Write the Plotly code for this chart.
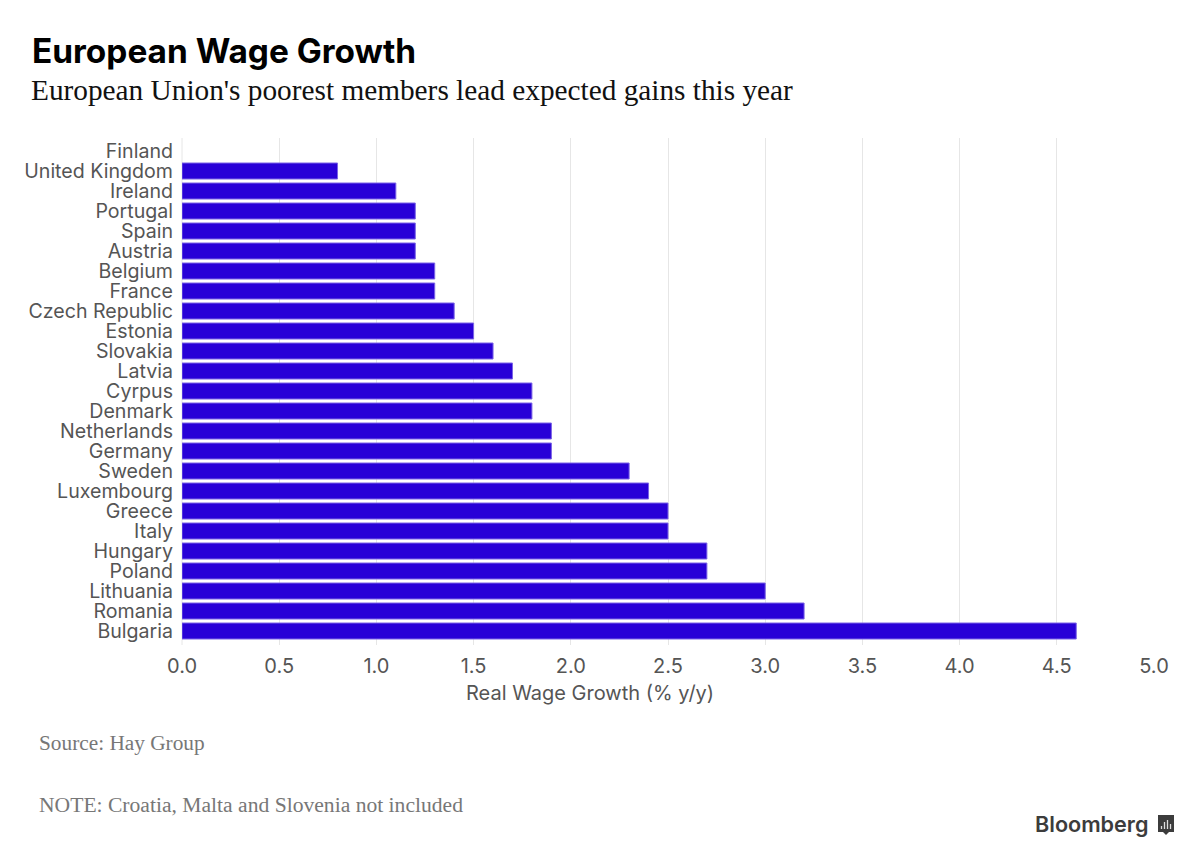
import plotly.graph_objects as go

countries = ["Finland","United Kingdom","Ireland","Portugal","Spain","Austria","Belgium","France",
             "Czech Republic","Estonia","Slovakia","Latvia","Cyrpus","Denmark","Netherlands","Germany",
             "Sweden","Luxembourg","Greece","Italy","Hungary","Poland","Lithuania","Romania","Bulgaria"]
wage_growth = [None,0.8,1.1,1.2,1.2,1.2,1.3,1.3,1.4,1.5,1.6,1.7,1.8,1.8,1.9,1.9,2.3,2.4,2.5,2.5,2.7,2.7,3.0,3.2,4.6]
x_ticks = [0,0.5,1,1.5,2,2.5,3,3.5,4,4.5,5]
x_tick_labels = ["0.0","0.5","1.0","1.5","2.0","2.5","3.0","3.5","4.0","4.5","5.0"]

OFF = 8  # page body margin
W, H = 1200 - OFF, 863 - OFF
L, R, T, B = 182, 1154, 138, 645  # plot area, in window pixels
SANS = "Inter, Liberation Sans, sans-serif"
SERIF = "Liberation Serif, serif"
GREY = "#555555"

fig = go.Figure(go.Bar(
    x=wage_growth, y=countries, orientation="h", width=0.8,
    marker=dict(color="#2800d7", line=dict(color="#7a63e6", width=1)),
))

def px_x(p): return (p - L) / (R - L)
def px_y(p): return (B - p) / (B - T)

def text(x, y, s, size, color, family, anchor="left", weight=400):
    fig.add_annotation(xref="paper", yref="paper", x=px_x(x), y=px_y(y), text=s, showarrow=False,
                       xanchor=anchor, yanchor="middle", borderpad=0, borderwidth=0,
                       font=dict(size=size, color=color, family=family, weight=weight))

text(32, 51.5, "European Wage Growth", 33.4, "#000000", SANS, weight=700)
text(31, 90, "European Union's poorest members lead expected gains this year", 29.3, "#111111", SERIF)
text(39, 743, "Source: Hay Group", 21.3, "#777777", SERIF)
text(39, 805, "NOTE: Croatia, Malta and Slovenia not included", 21.6, "#777777", SERIF)
text(1035, 824, "Bloomberg", 21.6, "#3c3c3c", SANS, weight=600)
text(589.5, 693, "Real Wage Growth (% y/y)", 20, GREY, SANS, anchor="center")

# Logo badge
fig.add_shape(type="rect", xref="paper", yref="paper", x0=px_x(1158), x1=px_x(1174), y0=px_y(832), y1=px_y(815),
              fillcolor="#3c3c3c", line=dict(width=0))
fig.add_shape(type="path", xref="paper", yref="paper",
              path=f"M {px_x(1163)} {px_y(832)} L {px_x(1169)} {px_y(832)} L {px_x(1166)} {px_y(835)} Z",
              fillcolor="#3c3c3c", line=dict(width=0))
for bx, top in zip([1161.5, 1164.5, 1167.5, 1170.5], [826, 822, 820, 824]):
    fig.add_shape(type="line", xref="paper", yref="paper", x0=px_x(bx), x1=px_x(bx), y0=px_y(829), y1=px_y(top),
                  line=dict(color="#dddddd", width=1.3))

fig.update_layout(
    width=W, height=H, autosize=False, showlegend=False,
    paper_bgcolor="white", plot_bgcolor="white",
    margin=dict(l=L-OFF, r=W-(R-OFF), t=T-OFF, b=H-(B-OFF), pad=0),
    xaxis=dict(range=[0,5], tickvals=x_ticks, ticktext=x_tick_labels, showgrid=True, gridcolor="#e6e6e6", gridwidth=1,
               zeroline=False, showline=False, ticks="", ticklabelstandoff=7,
               tickfont=dict(size=20, color=GREY, family=SANS)),
    yaxis=dict(type="category", categoryorder="array", categoryarray=countries, range=[24.7,-0.65],
               tickmode="array", tickvals=countries, ticktext=countries,
               showgrid=False, zeroline=False, showline=False, ticks="", ticklabelstandoff=8,
               tickfont=dict(size=19.6, color=GREY, family=SANS)),
)
fig.add_shape(type="line", xref="paper", yref="paper", x0=0, x1=0, y0=0, y1=1, line=dict(color="#e6e6e6", width=1), layer="below")
fig.write_html("out.html", config={"displayModeBar": False})
